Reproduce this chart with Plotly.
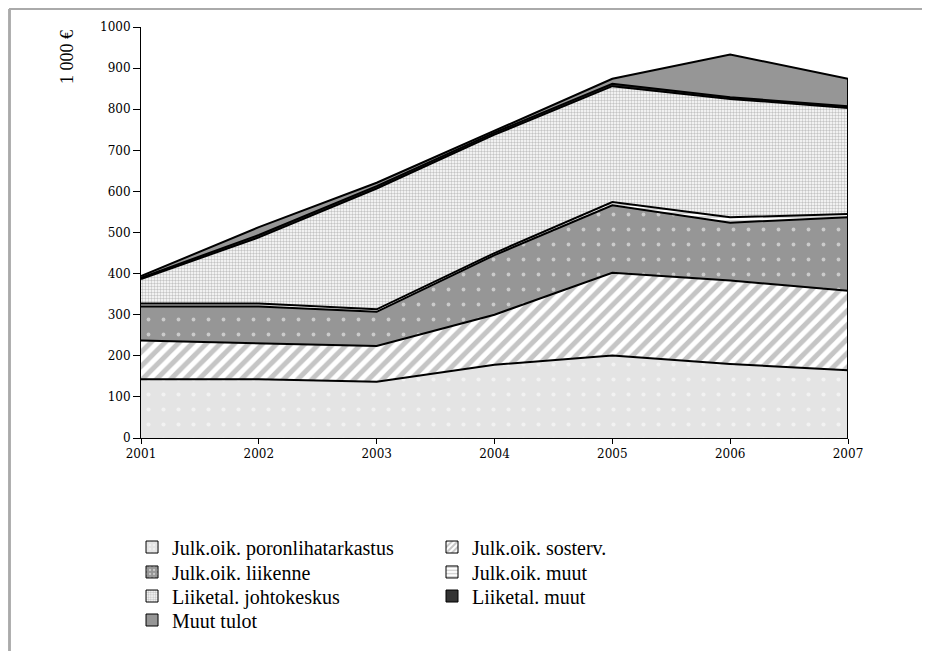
import plotly.graph_objects as go

years = [2001, 2002, 2003, 2004, 2005, 2006, 2007]
series_names = [
    "Julk.oik. poronlihatarkastus",
    "Julk.oik. sosterv.",
    "Julk.oik. liikenne",
    "Julk.oik. muut",
    "Liiketal. johtokeskus",
    "Liiketal. muut",
    "Muut tulot",
]
poronlihatarkastus = [143, 143, 137, 178, 201, 180, 165]
sosterv = [94, 88, 87, 122, 201, 203, 193]
liikenne = [83, 89, 83, 145, 164, 141, 179]
julk_muut = [7, 7, 6, 5, 8, 13, 8]
johtokeskus = [60, 161, 294, 288, 282, 288, 258]
liiketal_muut = [3, 6, 6, 5, 6, 4, 4]
muut_tulot = [4, 19, 8, 5, 12, 104, 67]
y_ticks = [0, 100, 200, 300, 400, 500, 600, 700, 800, 900, 1000]

all_series = [poronlihatarkastus, sosterv, liikenne, julk_muut,
              johtokeskus, liiketal_muut, muut_tulot]

patterns = [
    dict(bg="#e4e4e4", pat=dict(shape=".", bgcolor="#e4e4e4", fgcolor="#ffffff", size=15, solidity=0.06)),
    dict(bg="#ffffff", pat=dict(shape="/", bgcolor="#ffffff", fgcolor="#8c8c8c", size=10, solidity=0.5)),
    dict(bg="#969696", pat=dict(shape=".", bgcolor="#969696", fgcolor="#ffffff", size=15, solidity=0.05)),
    dict(bg="#ffffff", pat=dict(shape="-", bgcolor="#ffffff", fgcolor="#999999", size=4, solidity=0.4)),
    dict(bg="#ffffff", pat=dict(shape=".", bgcolor="#ffffff", fgcolor="#8a8a8a", size=3, solidity=0.5)),
    dict(bg="#333333", pat=None),
    dict(bg="#969696", pat=None),
]

fig = go.Figure()
for name, vals, st in zip(series_names, all_series, patterns):
    kw = dict(fillcolor=st["bg"])
    if st["pat"] is not None:
        kw["fillpattern"] = st["pat"]
    fig.add_trace(go.Scatter(
        x=years, y=vals, name=name, mode="lines", stackgroup="one",
        line=dict(color="black", width=2), showlegend=False, **kw,
    ))

# right-hand vertical edge of the stacked area
total_last = sum(s[-1] for s in all_series)
fig.add_trace(go.Scatter(x=[years[-1], years[-1]], y=[0, total_last], mode="lines",
                         line=dict(color="black", width=2), showlegend=False, hoverinfo="skip"))

serif = "Liberation Serif, Times New Roman, serif"
tickserif = "DejaVu Serif, serif"

# legend: one single-entry legend per series, laid out in 2 columns
col_x = [-0.0127, 0.4116]
row_y = [0.1617, 0.1229, 0.0855, 0.0482]
legend_layouts = {}
for i, (name, st) in enumerate(zip(series_names, patterns)):
    lid = "legend" if i == 0 else f"legend{i + 1}"
    marker = dict(color=st["bg"], line=dict(color="black", width=1))
    if st["pat"] is not None:
        p = dict(st["pat"])
        if p["shape"] == ".":
            p["size"] = min(p["size"], 5)
            p["solidity"] = max(p["solidity"], 0.25)
        if p["shape"] == "/":
            p["size"] = 5
        marker["pattern"] = p
    fig.add_trace(go.Bar(x=[None], y=[None], name=name, marker=marker,
                         showlegend=True, legend=lid, hoverinfo="skip"))
    legend_layouts[lid] = dict(
        orientation="h", x=col_x[i % 2], xanchor="left",
        y=row_y[i // 2], yanchor="middle", yref="container",
        font=dict(family=serif, size=20, color="black"), bgcolor="rgba(0,0,0,0)",
    )

for v in y_ticks[1:-1]:
    fig.add_hline(y=v, line=dict(color="#555555", width=1), layer="below")

frame = dict(color="#aaaaaa", width=2)

fig.update_layout(
    width=914, height=643,
    margin=dict(l=133, r=74, t=19, b=213),
    paper_bgcolor="white", plot_bgcolor="white",
    font=dict(family=serif, color="black", size=13),
    showlegend=True,
    **legend_layouts,
    xaxis=dict(
        range=[years[0], years[-1]], tickmode="array", tickvals=years,
        ticktext=[str(y) for y in years], showgrid=False, zeroline=False,
        showline=True, linecolor="black", linewidth=1,
        ticks="outside", ticklen=5, tickcolor="black",
        tickfont=dict(family=tickserif, size=12),
    ),
    yaxis=dict(
        range=[0, 1000], tickmode="array", tickvals=y_ticks,
        showgrid=False, zeroline=False,
        showline=True, linecolor="black", linewidth=1,
        ticks="outside", ticklen=7, tickcolor="black",
        tickfont=dict(family=tickserif, size=12),
    ),
    annotations=[dict(
        text="1 000 €", xref="paper", yref="paper", x=-0.1047, y=0.927,
        textangle=-90, showarrow=False, font=dict(family=serif, size=18),
        xanchor="center", yanchor="middle",
    )],
    shapes=[
        dict(type="line", xref="paper", yref="paper",
             x0=-0.1860, y0=1.0438, x1=1.3, y1=1.0438, line=frame, layer="above"),
        dict(type="line", xref="paper", yref="paper",
             x0=-0.1860, y0=1.0438, x1=-0.1860, y1=-0.7, line=frame, layer="above"),
    ],
)

fig.write_html("out.html")
